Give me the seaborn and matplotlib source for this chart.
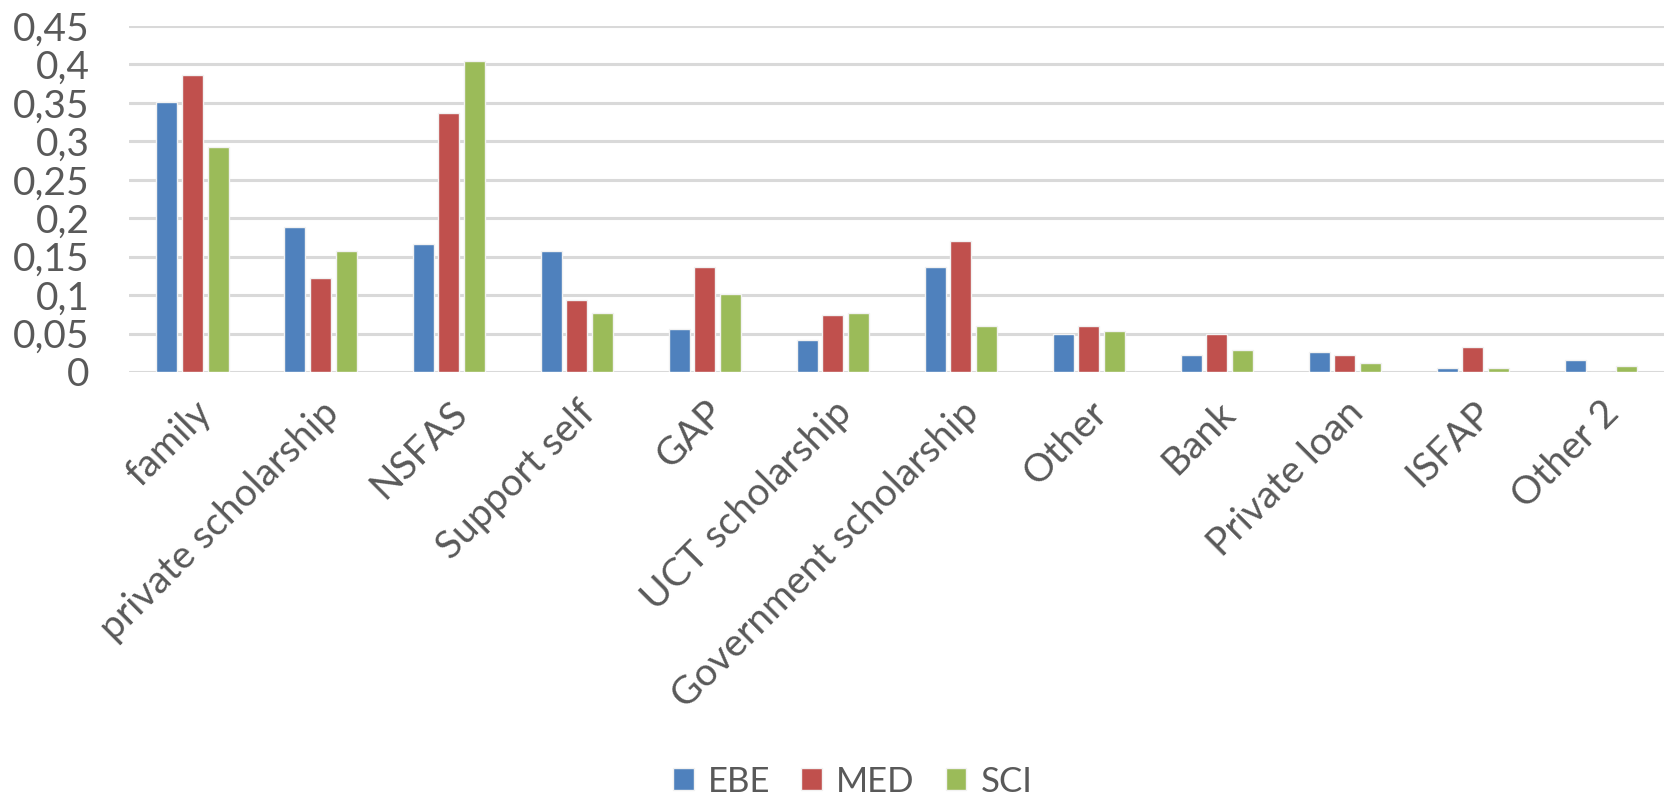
import matplotlib
matplotlib.use("Agg")
import matplotlib.pyplot as plt
import matplotlib.ticker as mticker
import seaborn as sns
import pandas as pd

# Funding sources by faculty (share of students)
categories = ["family", "private scholarship", "NSFAS", "Support self", "GAP",
              "UCT scholarship", "Government scholarship", "Other", "Bank",
              "Private loan", "ISFAP", "Other 2"]
ebe = [0.351, 0.188, 0.167, 0.157, 0.056, 0.042, 0.136, 0.050, 0.022, 0.026, 0.005, 0.015]
med = [0.386, 0.122, 0.337, 0.094, 0.136, 0.074, 0.171, 0.060, 0.050, 0.022, 0.032, 0.0]
sci = [0.293, 0.157, 0.404, 0.077, 0.102, 0.077, 0.060, 0.053, 0.029, 0.012, 0.005, 0.008]
series_names = ["EBE", "MED", "SCI"]
y_ticks = [0, 0.05, 0.1, 0.15, 0.2, 0.25, 0.3, 0.35, 0.4, 0.45]

df = pd.DataFrame({
    "source": categories * 3,
    "faculty": sum([[n] * len(categories) for n in series_names], []),
    "share": ebe + med + sci,
})

sns.set_theme(style="white")
plt.rcParams["font.family"] = ["Lato", "DejaVu Sans"]

fig = plt.figure(figsize=(16.65, 8.01), dpi=100)
ax = fig.add_axes([0.0772, 0.5356, 0.9228, 0.4319])

palette = {"EBE": "#4F81BD", "MED": "#C0504D", "SCI": "#9BBB59"}
sns.barplot(data=df, x="source", y="share", hue="faculty", order=categories,
            hue_order=series_names, palette=palette, saturation=1, width=0.6,
            gap=0.18, edgecolor="#f2f2f2", linewidth=1.0, ax=ax, zorder=3)

ax.set_ylim(0, 0.45)
ax.set_yticks(y_ticks)
ax.yaxis.set_major_formatter(mticker.FuncFormatter(
    lambda v, p: f"{v:g}".replace(".", ",")))
ax.grid(axis="y", color="#d9d9d9", linewidth=2.2, zorder=0)
ax.set_axisbelow(True)
for s in ax.spines.values():
    s.set_visible(False)
ax.set_xlim(-0.5, len(categories) - 0.5)
ax.set_xlabel("")
ax.set_ylabel("")
ax.tick_params(axis="both", length=0, colors="#595959", labelsize=28)
ax.tick_params(axis="y", pad=28)
ax.tick_params(axis="x", pad=16)
for lab in ax.get_xticklabels():
    lab.set_rotation(45)
    lab.set_ha("right")
    lab.set_rotation_mode("anchor")

leg = ax.legend(loc="lower center", bbox_to_anchor=(0.512, 0.0),
                bbox_transform=fig.transFigure, ncol=3, frameon=False,
                fontsize=25, handlelength=0.6, handleheight=0.6,
                handletextpad=0.4, columnspacing=0.9, borderaxespad=0.0,
                borderpad=0.1)
for t in leg.get_texts():
    t.set_color("#595959")

fig.savefig("out.png", dpi=100, facecolor="white")
